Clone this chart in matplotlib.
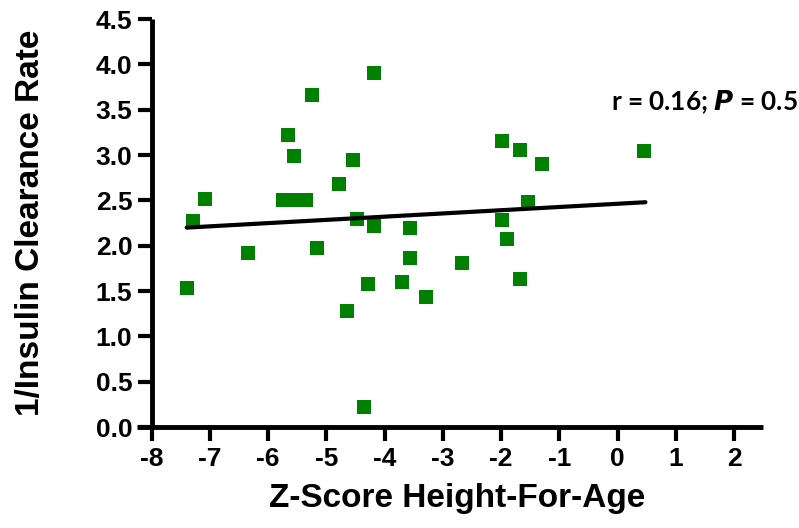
import matplotlib
matplotlib.use("Agg")
import matplotlib.pyplot as plt
import numpy as np

plt.rcParams["axes.unicode_minus"] = False
plt.rcParams["font.family"] = ["Liberation Sans", "DejaVu Sans"]

## data
z_score = [-7.40, -7.29, -7.09, -6.35, -5.74, -5.54, -5.35, -5.66, -5.55, -5.24,
           -5.16, -4.79, -4.65, -4.54, -4.47, -4.36, -4.29, -4.19, -4.19, -3.70,
           -3.56, -3.56, -3.29, -2.67, -1.99, -1.99, -1.89, -1.68, -1.68, -1.54,
           -1.29, 0.45]
inv_clearance = [1.53, 2.27, 2.51, 1.92, 2.50, 2.50, 2.50, 3.22, 2.99, 3.66,
                 1.98, 2.68, 1.28, 2.95, 2.29, 0.22, 1.58, 3.91, 2.22, 1.60,
                 2.20, 1.87, 1.44, 1.81, 3.15, 2.28, 2.07, 3.06, 1.63, 2.48,
                 2.90, 3.04]
fit_x = [-7.40, 0.48]
fit_y = [2.20, 2.48]
x_ticks = list(range(-8, 3))
y_ticks = [0.0, 0.5, 1.0, 1.5, 2.0, 2.5, 3.0, 3.5, 4.0, 4.5]

fig = plt.figure(figsize=(7.99, 5.28), dpi=100)
ax = fig.add_axes([0.190, 0.191, 0.765, 0.773])

ax.scatter(z_score, inv_clearance, marker="s", s=105, color="#008000", zorder=3, linewidths=0)
ax.plot(fit_x, fit_y, color="black", lw=3, solid_capstyle="round", zorder=4)

ax.set_xlim(-8, 2.5)
ax.set_ylim(0, 4.5)
ax.set_xticks(x_ticks)
ax.set_yticks(y_ticks)
ax.set_xticklabels([str(t) for t in x_ticks])
ax.set_yticklabels(["{0:.1f}".format(t) for t in y_ticks])

for side in ("top", "right"):
    ax.spines[side].set_visible(False)
for side in ("left", "bottom"):
    ax.spines[side].set_linewidth(3.5)
    ax.spines[side].set_capstyle("butt")
ax.spines["bottom"].set_bounds(-8.25, 2.5)  # GraphPad style: x axis runs out to the y tick ends
ax.tick_params(direction="out", length=10, width=3, labelsize=19, pad=4)
for lbl in ax.get_xticklabels() + ax.get_yticklabels():
    lbl.set_fontweight("bold")

ax.set_xlabel("Z-Score Height-For-Age", fontsize=24, fontweight="bold", labelpad=9)
ax.set_ylabel("1/Insulin Clearance Rate", fontsize=24, fontweight="bold", labelpad=36)

ax.text(-0.11, 3.50, r"r = 0.16; $\boldsymbol{P}$ = 0.5", fontsize=18.8, fontweight="bold",
        family="Lato", ha="left", va="baseline")

fig.savefig("out.png", dpi=100)
